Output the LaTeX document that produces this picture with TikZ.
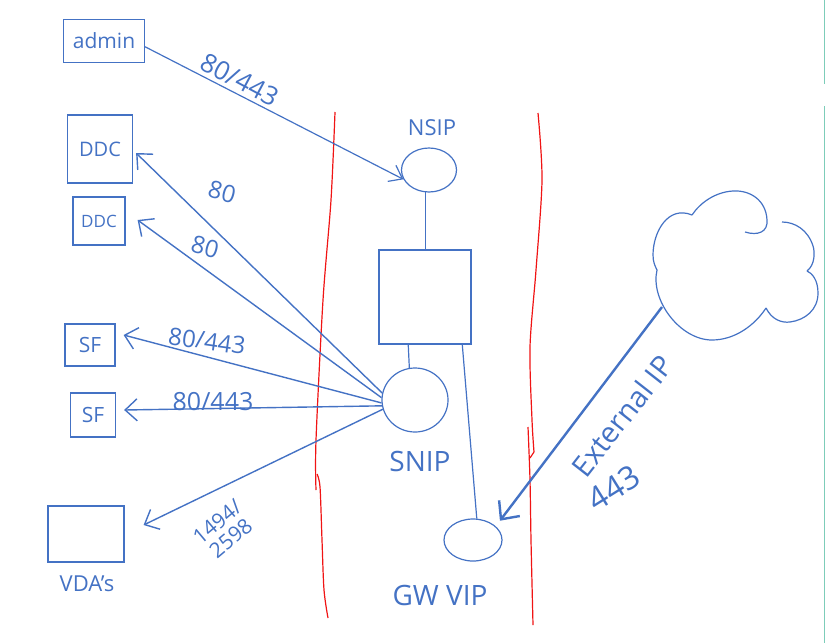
\documentclass[tikz,border=0pt]{standalone}
\usepackage{fontspec}
\setmainfont{Open Sans}
\usetikzlibrary{arrows.meta,shapes.geometric,calc}
\definecolor{ink}{RGB}{68,114,196}
\definecolor{pen}{RGB}{240,20,20}
\definecolor{edgeline}{RGB}{125,205,185}
\newcommand\myfs[1]{\fontsize{#1}{#1}\selectfont}
\begin{document}
\begin{tikzpicture}[x=1pt,y=-1pt,
  box/.style={draw=ink,line width=1.2pt,rectangle,inner sep=0pt},
  oval/.style={draw=ink,line width=1.2pt,ellipse,inner sep=0pt},
  lab/.style={text=ink,inner sep=0pt,font=\myfs{#1}},
  conn/.style={draw=ink,line width=1.2pt},
  arr/.style={draw=ink,line width=1.4pt,-{Straight Barb[length=12pt,width=22pt,line width=1.4pt]}},
  redline/.style={draw=pen,line width=1.2pt}]
\useasboundingbox (0,0) rectangle (826,643);
% screen edge
\draw[edgeline,line width=1.5pt] (824.5,0) -- (824.5,84);
\draw[edgeline,line width=1.5pt] (824.5,106) -- (824.5,643);
% red boundaries
\draw[redline] plot[smooth] coordinates {(335,112) (331,200) (323,300) (316,440) (316,490)};
\draw[redline] plot[smooth] coordinates {(317,474) (320,487) (322,540) (324,590) (328,618)};
\draw[redline] plot[smooth] coordinates {(538,113) (542,180) (536,270) (530,347) (532,420) (534,452)};
\draw[redline] (534,452) -- (530,458);
\draw[redline] plot[smooth] coordinates {(528,427) (530,480) (531,540) (533,625)};
% left boxes
\node[box,minimum width=81pt,minimum height=43pt] (admin) at (104,41) {\color{ink}\myfs{21}admin};
\node[box,minimum width=65pt,minimum height=68pt] (ddc1) at (100,149) {\color{ink}\myfs{20}DDC};
\node[box,minimum width=52pt,minimum height=48pt] (ddc2) at (99,221) {\color{ink}\myfs{17}DDC};
\node[box,minimum width=50pt,minimum height=42pt] (sf1) at (90,345) {\color{ink}\myfs{21}SF};
\node[box,minimum width=45pt,minimum height=44pt] (sf2) at (93,415) {\color{ink}\myfs{21}SF};
\node[box,minimum width=76pt,minimum height=56pt] (vda) at (86,534) {};
\node[lab=22] (vdalab) at (87,584) {VDA's};
% centre column
\node[oval,minimum width=55pt,minimum height=44pt] (nsip) at (429,170) {};
\node[lab=22] (nsiplab) at (432,128) {NSIP};
\node[box,minimum width=92pt,minimum height=94pt] (appl) at (425,297) {};
\node[oval,minimum width=66pt,minimum height=64pt] (snip) at (415,400) {};
\node[lab=28] (sniplab) at (420,461) {SNIP};
\node[oval,minimum width=58pt,minimum height=42pt] (gw) at (473,540) {};
\node[lab=28] (gwlab) at (440,595) {GW VIP};
% internal links
\draw[conn] (nsip.-98) -- (nsip.-98 |- appl.north);
\draw[conn] ($(appl.south west)!0.32!(appl.south east)$) -- (snip.100);
\draw[conn] ($(appl.south west)!0.9!(appl.south east)$) -- (gw.80);
% admin to NSIP
\draw[conn,line width=1.2pt,-{Straight Barb[length=12pt,width=18pt,line width=1.2pt]}] (admin.-8) -- (nsip.200);
\node[lab=26,rotate=-28] (l1) at (240,80) {80/443};
% SNIP fan-out
\draw[arr] (snip.168) -- ($(ddc1.east)+(3,4)$);
\node[lab=24,rotate=-15] (l2) at (222,192) {80};
\draw[arr] (snip.176) -- ($(ddc2.east)+(12,-1)$);
\node[lab=24,rotate=-15] (l3) at (205,247) {80};
\draw[arr] (snip.185) -- ($(sf1.east)+(8,-10)$);
\node[lab=24,rotate=-8] (l4) at (207,341) {80/443};
\draw[arr] (snip.190) -- ($(sf2.east)+(8,-5)$);
\node[lab=25] (l5) at (213,402) {80/443};
\draw[arr] (snip.196) -- ($(vda.east)+(19,-9)$);
\node[lab=21,rotate=40,align=center] (l6) at (224,530) {1494/\\2598};
% cloud
\draw[ink,line width=1.2pt]
  (745,232) .. controls (758,236) and (768,232) .. (767,220)
  .. controls (766,200) and (750,190) .. (733,191)
  .. controls (715,192) and (700,203) .. (692,215);
\draw[ink,line width=1.2pt]
  (692,215) .. controls (668,205) and (653,232) .. (653,255)
  .. controls (653,262) and (655,266) .. (657,270);
\draw[ink,line width=1.2pt]
  (657,270) .. controls (650,300) and (680,340) .. (712,340)
  .. controls (735,340) and (755,325) .. (766,308);
\draw[ink,line width=1.2pt]
  (766,308) .. controls (772,320) and (782,323) .. (790,322)
  .. controls (805,320) and (818,310) .. (818,293)
  .. controls (818,280) and (812,273) .. (807,271);
\draw[ink,line width=1.2pt]
  (807,271) .. controls (815,265) and (815,252) .. (813,246)
  .. controls (808,230) and (795,222) .. (782,222);
\coordinate (cloudpt) at (662,307);
\draw[draw=ink,line width=2.4pt,-{Straight Barb[length=14pt,width=26pt,line width=2.4pt]}] (cloudpt) -- ($(gw.north east)+(6,-4)$);
\node[lab=29,rotate=52] (l7) at (622,416) {External IP};
\node[lab=32,rotate=32] (l8) at (614,488) {443};
\end{tikzpicture}
\end{document}
